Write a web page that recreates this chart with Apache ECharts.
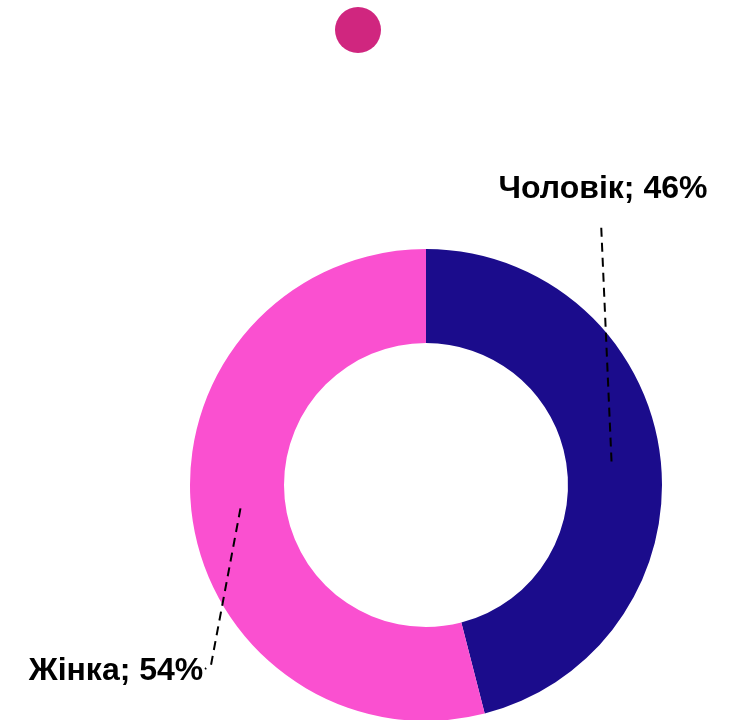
<!DOCTYPE html>
<html lang="uk">
<head>
    <meta charset="UTF-8">
    <title>Стать</title>
    <style>
        html, body { margin: 0; padding: 0; background: #fff; }
        #main { width: 739px; height: 720px; }
    </style>
</head>
<body>
<div id="main"></div>
<script src="https://cdn.jsdelivr.net/npm/echarts@6/dist/echarts.min.js"></script>
<script>
    // дані
    var categories = ['Чоловік', 'Жінка'];
    var values = [46, 54];
    var colors = ['#1b0c8c', '#fa50d0'];

    var cx = 426, cy = 485, rIn = 142, rOut = 236;
    var rLine = 187; // лінія підпису починається в середині кільця

    // де стоять підписи і куди доходить пунктир
    var labelPos = [[603, 189], [116, 671]];
    var lineEnds = [[[601, 222], [601, 222]], [[211, 665], [205, 669]]];

    var mychart = echarts.init(document.getElementById('main'));

    // кільце малюється першим, підписи з пунктиром — другою серією поверх
    var option = {
        animation: false,
        graphic: [{
            type: 'circle',
            shape: { cx: 358, cy: 30, r: 23 },
            style: { fill: '#d0267f' }
        }],
        series: [{
            type: 'pie',
            z: 2,
            center: [cx, cy],
            radius: [rIn, rOut],
            startAngle: 90,
            clockwise: true,
            label: { show: false },
            labelLine: { show: false },
            data: categories.map(function (name, i) {
                return { name: name, value: values[i], itemStyle: { color: colors[i] } };
            })
        }, {
            type: 'pie',
            z: 5,
            silent: true,
            center: [cx, cy],
            radius: [rIn, rOut],
            startAngle: 90,
            clockwise: true,
            avoidLabelOverlap: false,
            itemStyle: { color: 'rgba(0,0,0,0)' },
            label: {
                show: true,
                position: 'outside',
                formatter: '{b}; {c}%',
                color: '#000',
                fontFamily: 'Liberation Sans',
                fontWeight: 'bold',
                fontSize: 32,
                overflow: 'none',
                width: 400
            },
            labelLine: {
                show: true,
                showAbove: true,
                lineStyle: { color: '#000', width: 2, type: [9, 6] }
            },
            labelLayout: function (p) {
                var i = p.dataIndex;
                var pts = p.labelLinePoints;
                var start = pts ? pts[0] : [cx, cy];
                var k = rLine / rOut;
                var s = [cx + (start[0] - cx) * k, cy + (start[1] - cy) * k];
                return {
                    x: labelPos[i][0],
                    y: labelPos[i][1],
                    align: 'center',
                    verticalAlign: 'middle',
                    hideOverlap: false,
                    labelLinePoints: [s, lineEnds[i][0], lineEnds[i][1]]
                };
            },
            data: categories.map(function (name, i) {
                return { name: name, value: values[i] };
            })
        }]
    };
    mychart.setOption(option);
</script>
</body>
</html>
